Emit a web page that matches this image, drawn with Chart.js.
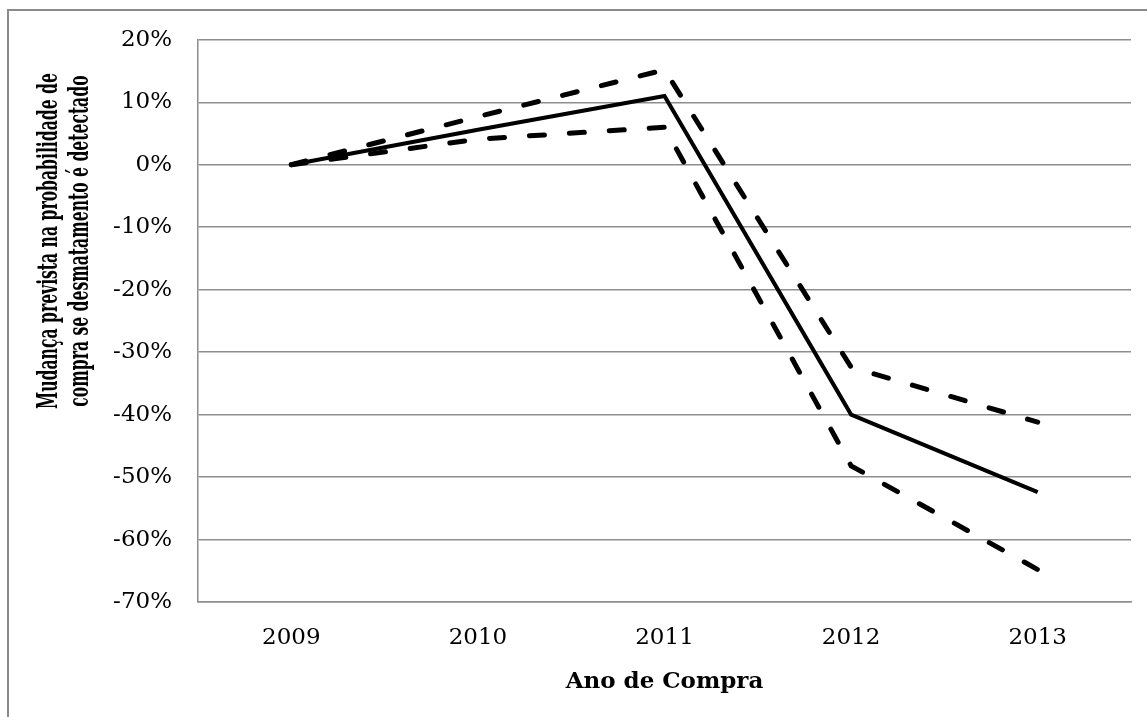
<!DOCTYPE html>
<html>
<head>
<meta charset="utf-8">
<script src="https://cdn.jsdelivr.net/npm/chart.js@4"></script>
<style>
  html, body { margin: 0; padding: 0; background: #fff; overflow: hidden; }
  #wrap { position: relative; width: 1147px; height: 717px; }
  #frame { position: absolute; left: 7px; top: 9px; width: 1200px; height: 800px;
           border: 2px solid #8a8a8a; pointer-events: none; }
</style>
</head>
<body>
<div id="wrap">
  <canvas id="chart" width="1147" height="717"></canvas>
  <div id="frame"></div>
</div>
<script>
// dados (em %)
const years = ["2009", "2010", "2011", "2012", "2013"];
const predicted = [0, 5.6, 11.0, -40.0, -52.4];
const upperBound = [0, 7.7, 15.2, -32.4, -41.2];
const lowerBound = [0, 4.1, 6.0, -48.2, -64.8];

const yTitleLines = ["Mudança prevista na probabilidade de", "compra se desmatamento é detectado"];
const xTitle = "Ano de Compra";

// título do eixo Y desenhado comprimido, como no original
const yTitlePlugin = {
  id: "yTitle",
  afterDraw(chart) {
    const ctx = chart.ctx;
    const area = chart.chartArea;
    ctx.save();
    ctx.font = "bold 27px 'DejaVu Serif'";
    ctx.fillStyle = "#000";
    ctx.textAlign = "center";
    ctx.textBaseline = "alphabetic";
    const s = 336 / ctx.measureText(yTitleLines[0]).width;
    const cy = area.top + (area.bottom - area.top) * 0.358;
    [57, 88].forEach((bx, i) => {
      ctx.save();
      ctx.translate(bx, cy);
      ctx.rotate(-Math.PI / 2);
      ctx.scale(s, 1);
      ctx.fillText(yTitleLines[i], 0, 0);
      ctx.restore();
    });
    ctx.restore();
  },
};

const ctx = document.getElementById("chart").getContext("2d");

new Chart(ctx, {
  type: "line",
  data: {
    labels: years,
    datasets: [
      {
        data: predicted,
        borderColor: "#000",
        borderWidth: 4,
        pointRadius: 0,
        tension: 0,
      },
      {
        data: upperBound,
        borderColor: "#000",
        borderWidth: 5,
        borderDash: [15, 25],
        borderCapStyle: "round",
        pointRadius: 0,
        tension: 0,
      },
      {
        data: lowerBound,
        borderColor: "#000",
        borderWidth: 5,
        borderDash: [15, 25],
        borderCapStyle: "round",
        pointRadius: 0,
        tension: 0,
      },
    ],
  },
  options: {
    responsive: false,
    animation: false,
    devicePixelRatio: 1,
    layout: { padding: { left: 0, right: 16, top: 39, bottom: 0 } },
    plugins: {
      legend: { display: false },
      tooltip: { enabled: false },
    },
    scales: {
      x: {
        offset: true,
        grid: { display: false, drawTicks: false },
        border: { display: true, color: "#8e8e8e", width: 1.5 },
        ticks: {
          color: "#000",
          padding: 22,
          font: { family: "DejaVu Serif", size: 23 },
        },
        title: {
          display: true,
          text: xTitle,
          color: "#000",
          padding: { top: 0, bottom: 21 },
          font: { family: "DejaVu Serif", size: 23, weight: "bold" },
        },
        afterFit(scale) {
          scale.height = 115;
        },
      },
      y: {
        min: -70,
        max: 20,
        grid: { color: "#8e8e8e", lineWidth: 1.5, drawTicks: false },
        border: { display: true, color: "#8e8e8e", width: 1.5 },
        ticks: {
          stepSize: 10,
          color: "#000",
          padding: 26,
          font: { family: "DejaVu Serif", size: 23 },
          callback: (v) => v + "%",
        },
        afterFit(scale) {
          scale.width = 198;
        },
      },
    },
  },
  plugins: [yTitlePlugin],
});
</script>
</body>
</html>
